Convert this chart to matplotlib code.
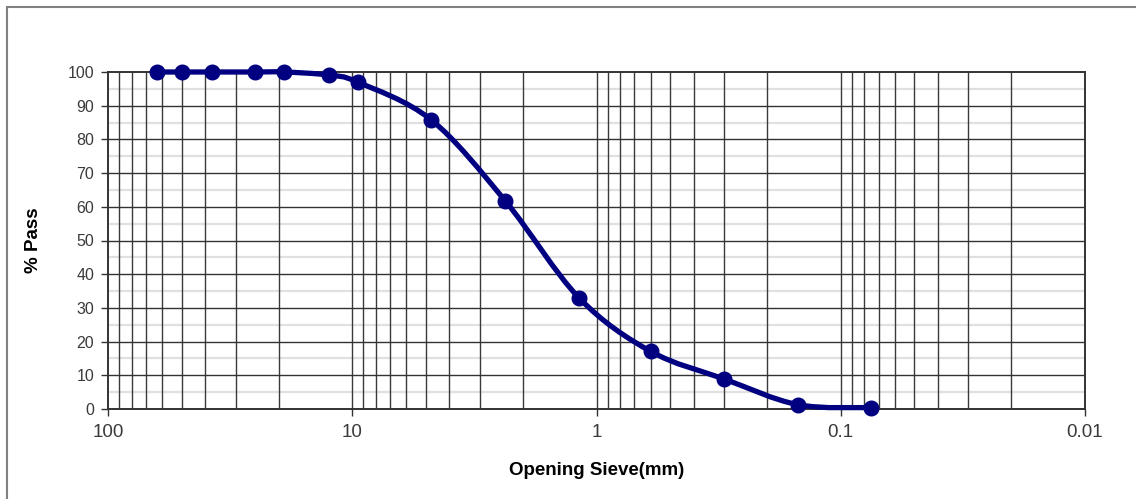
import numpy as np
import matplotlib.pyplot as plt
from matplotlib.path import Path
from matplotlib.patches import PathPatch, Rectangle
from matplotlib.ticker import FixedLocator, NullFormatter

plt.rcParams['font.family'] = ['Liberation Sans', 'DejaVu Sans']

# sieve openings (mm) and percent passing
sieve_mm = [63, 50, 37.5, 25, 19, 12.5, 9.5, 4.75, 2.36, 1.18, 0.6, 0.3, 0.15, 0.075]
pass_pct = [100, 100, 100, 100, 100, 99.1, 97.0, 85.8, 61.7, 33.0, 17.1, 8.9, 1.3, 0.4]

y_ticks = [0, 10, 20, 30, 40, 50, 60, 70, 80, 90, 100]
x_ticks = [100, 10, 1, 0.1, 0.01]
x_tick_labels = ['100', '10', '1', '0.1', '0.01']

LINE_COLOR = '#000080'


def smooth_path(xs, ys):
    """Bezier path through the points (log x), like a spreadsheet smoothed line."""
    lx = np.log10(xs)
    pts = np.column_stack([lx, ys])
    n = len(pts)
    verts = [pts[0]]
    codes = [Path.MOVETO]
    for i in range(n - 1):
        p0 = pts[i - 1] if i > 0 else pts[i]
        p1 = pts[i]
        p2 = pts[i + 1]
        p3 = pts[i + 2] if i + 2 < n else pts[i + 1]
        c1 = p1 + (p2 - p0) / 6.0
        c2 = p2 - (p3 - p1) / 6.0
        verts += [c1, c2, p2]
        codes += [Path.CURVE4] * 3
    verts = np.array(verts)
    verts[:, 0] = 10 ** verts[:, 0]
    return Path(verts, codes)


fig = plt.figure(figsize=(11.36, 4.99), dpi=100)
ax = fig.add_axes([108 / 1136, 1 - 409 / 499, (1085 - 108) / 1136, (409 - 72) / 499])

ax.set_xscale('log')
ax.set_xlim(100, 0.01)
ax.set_ylim(0, 100)

# grid: log verticals, dark every 10 %, light every 5 %
vlines = [m * 10.0 ** e for e in range(-2, 2) for m in range(1, 10)]
for v in vlines:
    if 0.01 < v < 100:
        ax.axvline(v, color='#3a3a3a', lw=1.0, zorder=1)
for h in np.arange(5, 100, 10):
    ax.axhline(h, color='#e0e0e0', lw=1.6, zorder=0)
for h in y_ticks[1:-1]:
    ax.axhline(h, color='#333333', lw=1.0, zorder=1)

ax.add_patch(PathPatch(smooth_path(sieve_mm, pass_pct), facecolor='none',
                       edgecolor=LINE_COLOR, lw=3.8, zorder=3, capstyle='round',
                       clip_on=False))
ax.plot(sieve_mm, pass_pct, linestyle='none', marker='o', markersize=10.5,
        color=LINE_COLOR, zorder=4, clip_on=False)

ax.yaxis.set_major_locator(FixedLocator(y_ticks))
ax.xaxis.set_major_locator(FixedLocator(x_ticks))
ax.xaxis.set_minor_locator(FixedLocator([]))
ax.xaxis.set_minor_formatter(NullFormatter())
ax.set_xticklabels(x_tick_labels)
ax.tick_params(axis='both', direction='out', length=5, width=1, color='#333333',
               labelcolor='#3a3a3a')
ax.tick_params(axis='y', pad=5, labelsize=11.5)
ax.tick_params(axis='x', pad=6, labelsize=13.5)

for side in ['left', 'bottom', 'top', 'right']:
    ax.spines[side].set_color('#333333')
    ax.spines[side].set_linewidth(1.4)

ax.set_ylabel('% Pass', fontsize=13.5, fontweight='bold', labelpad=18)
ax.set_xlabel('Opening Sieve(mm)', fontsize=13.5, fontweight='bold', labelpad=15)

# outer chart frame
fig.patches.append(Rectangle((7 / 1136, -0.05), 1.1, 1 - 7 / 499 + 0.05,
                             transform=fig.transFigure, fill=False,
                             edgecolor='#808080', lw=1.5))

fig.savefig('out.png', dpi=100)
